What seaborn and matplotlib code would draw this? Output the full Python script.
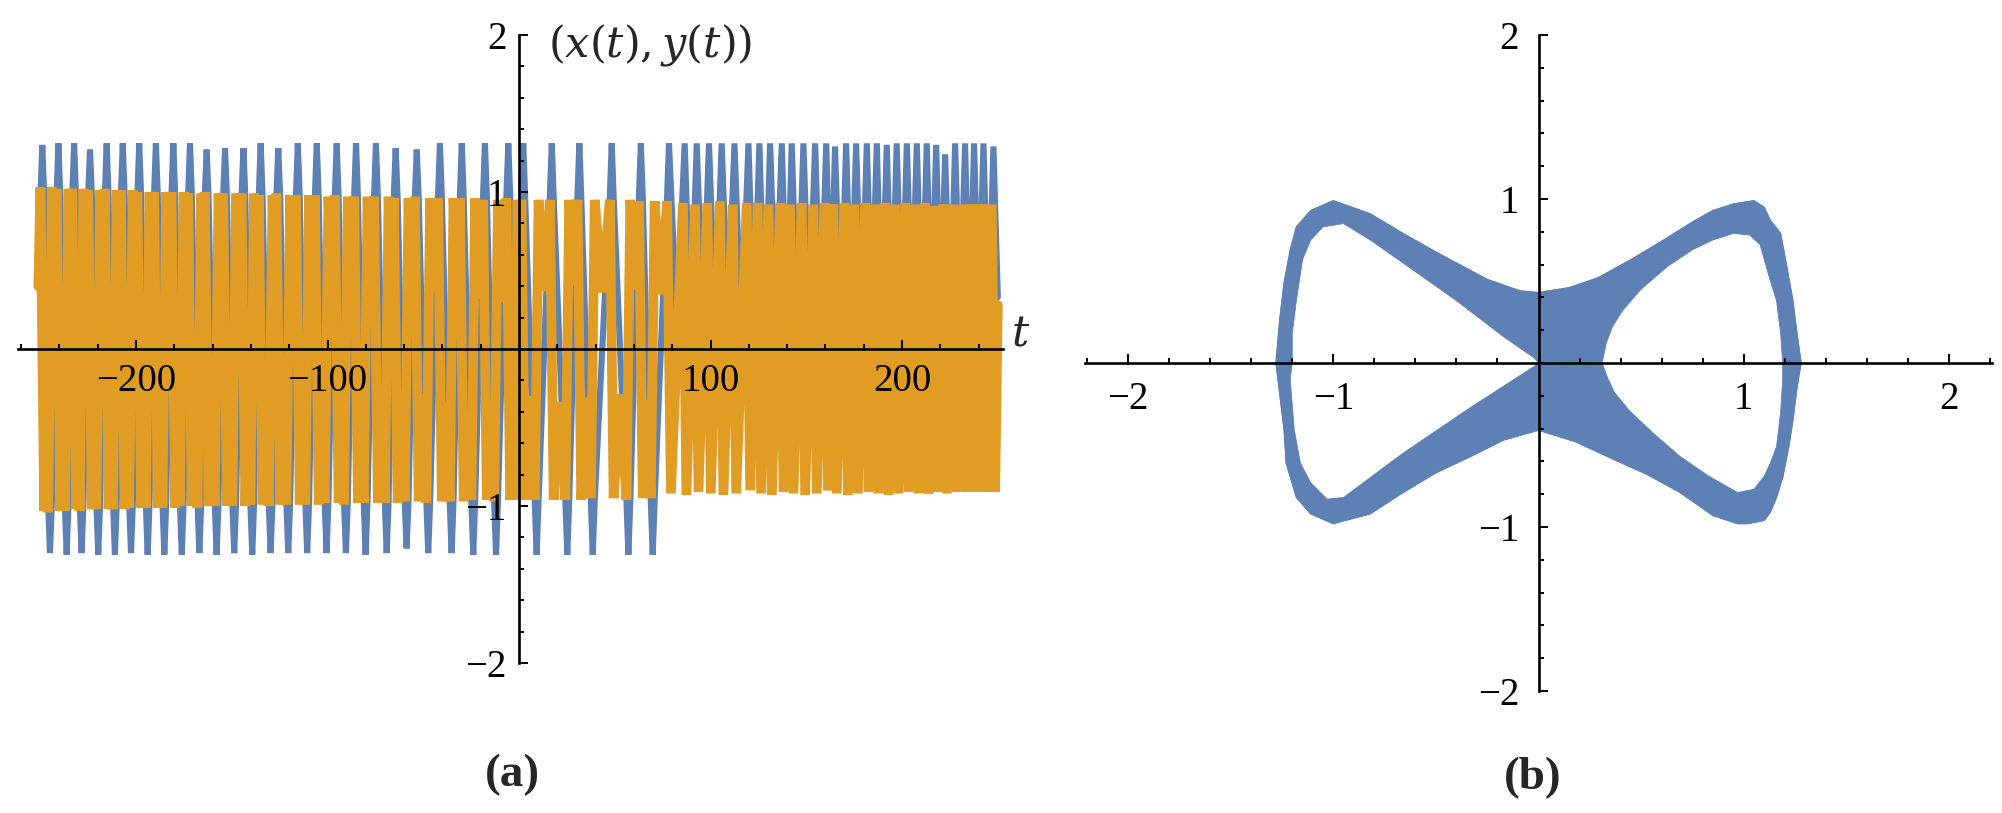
import numpy as np
import matplotlib
matplotlib.use("Agg")
import matplotlib.pyplot as plt
from matplotlib.path import Path
from matplotlib.patches import PathPatch
from matplotlib.ticker import FixedLocator, MultipleLocator
import seaborn as sns

# ---------------- panel (a): points ----------------
# x(t): blue series -- spike tips and the shoulders where each spike leaves the orange band
x_turning = [
    (-251.0, 0.42),
    (-249.9, 0.97), (-248.9, 1.30), (-247.9, 0.97),
    (-245.9, -0.97), (-244.9, -1.30), (-243.9, -0.97),
    (-241.5, 0.97), (-240.5, 1.31), (-239.5, 0.97),
    (-237.2, -0.97), (-236.2, -1.31), (-235.2, -0.97),
    (-233.3, 0.97), (-232.3, 1.31), (-231.3, 0.97),
    (-229.4, -0.97), (-228.4, -1.30), (-227.4, -0.97),
    (-225.0, 0.97), (-224.0, 1.27), (-223.0, 0.97),
    (-220.7, -0.97), (-219.7, -1.31), (-218.7, -0.97),
    (-216.3, 0.97), (-215.3, 1.31), (-214.3, 0.97),
    (-212.0, -0.97), (-211.0, -1.31), (-210.0, -0.97),
    (-207.9, 0.97), (-206.9, 1.31), (-205.9, 0.97),
    (-203.6, -0.97), (-202.6, -1.30), (-201.6, -0.97),
    (-199.3, 0.97), (-198.3, 1.31), (-197.3, 0.97),
    (-194.9, -0.97), (-193.9, -1.31), (-192.9, -0.97),
    (-190.6, 0.97), (-189.6, 1.31), (-188.6, 0.97),
    (-186.2, -0.97), (-185.2, -1.31), (-184.2, -0.97),
    (-181.5, 0.97), (-180.5, 1.31), (-179.5, 0.97),
    (-177.1, -0.97), (-176.1, -1.31), (-175.1, -0.97),
    (-172.8, 0.97), (-171.8, 1.31), (-170.8, 0.97),
    (-167.9, -0.97), (-166.9, -1.30), (-165.9, -0.97),
    (-164.1, 0.97), (-163.1, 1.27), (-162.1, 0.97),
    (-158.9, -0.97), (-157.9, -1.31), (-156.9, -0.97),
    (-154.5, 0.97), (-153.5, 1.28), (-152.5, 0.97),
    (-149.7, -0.97), (-148.7, -1.30), (-147.7, -0.97),
    (-144.9, 0.97), (-143.9, 1.28), (-142.9, 0.97),
    (-140.3, -0.97), (-139.3, -1.31), (-138.3, -0.97),
    (-135.9, 0.97), (-134.9, 1.31), (-133.9, 0.97),
    (-130.7, -0.97), (-129.7, -1.30), (-128.7, -0.97),
    (-126.7, 0.97), (-125.7, 1.28), (-124.7, 0.97),
    (-121.5, -0.97), (-120.5, -1.30), (-119.5, -0.97),
    (-116.5, 0.97), (-115.5, 1.31), (-114.5, 0.97),
    (-111.6, -0.97), (-110.6, -1.30), (-109.6, -0.97),
    (-106.6, 0.97), (-105.6, 1.31), (-104.6, 0.97),
    (-101.5, -0.97), (-100.5, -1.30), (-99.5, -0.97),
    (-96.2, 0.97), (-95.2, 1.31), (-94.2, 0.97),
    (-91.4, -0.97), (-90.4, -1.30), (-89.4, -0.97),
    (-86.1, 0.97), (-85.1, 1.31), (-84.1, 0.97),
    (-81.1, -0.97), (-80.1, -1.31), (-79.1, -0.97),
    (-75.7, 0.97), (-74.7, 1.31), (-73.7, 0.97),
    (-70.1, -0.97), (-69.1, -1.30), (-68.1, -0.97),
    (-65.4, 0.97), (-64.4, 1.28), (-63.4, 0.97),
    (-59.7, -0.97), (-58.7, -1.27), (-57.7, -0.97),
    (-54.4, 0.97), (-53.4, 1.27), (-52.4, 0.97),
    (-48.4, -0.97), (-47.4, -1.30), (-46.4, -0.97),
    (-42.3, 0.97), (-41.3, 1.31), (-40.3, 0.97),
    (-36.2, -0.97), (-35.2, -1.30), (-34.2, -0.97),
    (-30.9, 0.97), (-29.9, 1.31), (-28.9, 0.97),
    (-24.9, -0.97), (-23.9, -1.31), (-22.9, -0.97),
    (-18.8, 0.97), (-17.8, 1.31), (-16.8, 0.97),
    (-13.0, -0.97), (-12.0, -1.31), (-11.0, -0.97),
    (-6.6, 0.97), (-5.6, 1.31), (-4.6, 0.97),
    (-1.7, -0.10),
    (1.2, 0.97), (2.2, 1.31), (3.2, 0.97),
    (8.2, -0.97), (9.2, -1.31), (10.2, -0.97),
    (16.1, 0.97), (17.1, 1.31), (18.1, 0.97),
    (24.2, -0.97), (25.2, -1.31), (26.2, -0.97),
    (30.5, 0.97), (31.5, 1.31), (32.5, 0.97),
    (37.5, -0.97), (38.5, -1.31), (39.5, -0.97),
    (47.4, 0.97), (48.4, 1.31), (49.4, 0.97),
    (56.1, -0.97), (57.1, -1.31), (58.1, -0.97),
    (62.6, 0.97), (63.6, 1.31), (64.6, 0.97),
    (68.8, -0.97), (69.8, -1.31), (70.8, -0.97),
    (77.3, 0.97), (78.3, 1.31),
    (82.4, 0.18), (86.5, 1.31), (89.6, 0.12), (92.8, 1.31), (96.0, 0.20),
    (99.2, 1.31), (102.5, 0.15), (105.8, 1.31), (109.1, 0.22), (112.5, 1.31),
    (116.1, 0.10), (119.8, 1.31), (122.6, 0.17), (125.5, 1.31), (128.3, 0.14),
    (131.1, 1.31), (134.1, 0.21), (137.2, 1.31), (139.8, 0.16), (142.4, 1.31),
    (145.4, 0.12), (148.5, 1.31), (151.5, 0.19), (154.6, 1.31), (157.5, 0.15),
    (160.4, 1.31), (162.7, 0.23), (165.0, 1.29), (167.9, 0.13), (170.8, 1.31),
    (173.4, 0.18), (176.0, 1.31), (178.8, 0.16), (181.6, 1.31), (184.2, 0.20),
    (186.8, 1.31), (189.4, 0.14), (192.0, 1.30), (194.6, 0.18), (197.2, 1.31),
    (199.8, 0.15), (202.5, 1.31), (205.1, 0.21), (207.7, 1.31), (210.3, 0.13),
    (212.9, 1.31), (215.3, 0.17), (217.8, 1.30), (220.1, 0.19), (222.5, 1.24),
    (225.1, 0.14), (227.7, 1.31), (230.3, 0.18), (232.9, 1.31), (235.2, 0.16),
    (237.6, 1.31), (240.0, 0.20), (242.5, 1.31), (245.1, 0.15), (247.7, 1.29),
    (250.0, 0.33),
]

# y(t): orange series -- corner maxima/minima and the shallow dips between them
y_turning = [
    (-251.0, 0.40),
    (-249.9, 1.03), (-247.9, -1.03), (-246.9, -0.36),
    (-245.9, -1.04), (-243.9, 1.03), (-242.7, 0.32),
    (-241.5, 1.02), (-239.5, -1.03), (-238.4, -0.40),
    (-237.2, -1.03), (-235.2, 1.02), (-234.3, 0.35),
    (-233.3, 1.02), (-231.3, -1.02), (-230.4, -0.30),
    (-229.4, -1.03), (-227.4, 1.02), (-226.2, 0.41),
    (-225.0, 1.01), (-223.0, -1.02), (-221.9, -0.34),
    (-220.7, -1.02), (-218.7, 1.01), (-217.5, 0.30),
    (-216.3, 1.02), (-214.3, -1.02), (-213.2, -0.38),
    (-212.0, -1.02), (-210.0, 1.01), (-209.0, 0.36),
    (-207.9, 1.01), (-205.9, -1.02), (-204.8, -0.31),
    (-203.6, -1.01), (-201.6, 1.01), (-200.5, 0.40),
    (-199.3, 1.00), (-197.3, -1.01), (-196.1, -0.35),
    (-194.9, -1.01), (-192.9, 1.00), (-191.8, 0.29),
    (-190.6, 1.00), (-188.6, -1.01), (-187.4, -0.39),
    (-186.2, -1.01), (-184.2, 1.00), (-182.9, 0.33),
    (-181.5, 1.00), (-179.5, -1.01), (-178.3, -0.30),
    (-177.1, -1.00), (-175.1, 1.00), (-174.0, 0.42),
    (-172.8, 0.99), (-170.8, -1.00), (-169.4, -0.36),
    (-167.9, -1.01), (-165.9, 0.99), (-165.0, 0.31),
    (-164.1, 1.00), (-162.1, -1.00), (-160.5, -0.38),
    (-158.9, -1.00), (-156.9, 0.99), (-155.7, 0.34),
    (-154.5, 0.99), (-152.5, -1.00), (-151.1, -0.29),
    (-149.7, -1.00), (-147.7, 0.99), (-146.3, 0.40),
    (-144.9, 0.99), (-142.9, -1.00), (-141.6, -0.35),
    (-140.3, -0.99), (-138.3, 0.99), (-137.1, 0.32),
    (-135.9, 0.98), (-133.9, -0.99), (-132.3, -0.41),
    (-130.7, -1.00), (-128.7, 0.98), (-127.7, 0.30),
    (-126.7, 0.99), (-124.7, -0.99), (-123.1, -0.37),
    (-121.5, -0.99), (-119.5, 0.98), (-118.0, 0.35),
    (-116.5, 0.98), (-114.5, -0.99), (-113.1, -0.31),
    (-111.6, -0.99), (-109.6, 0.98), (-108.1, 0.39),
    (-106.6, 0.98), (-104.6, -0.99), (-103.1, -0.33),
    (-101.5, -0.98), (-99.5, 0.97), (-97.9, 0.29),
    (-96.2, 0.98), (-94.2, -0.98), (-92.8, -0.40),
    (-91.4, -0.99), (-89.4, 0.97), (-87.8, 0.34),
    (-86.1, 0.97), (-84.1, -0.98), (-82.6, -0.30),
    (-81.1, -0.98), (-79.1, 0.97), (-77.4, 0.38),
    (-75.7, 0.97), (-73.7, -0.98), (-71.9, -0.35),
    (-70.1, -0.98), (-68.1, 0.97), (-66.8, 0.31),
    (-65.4, 0.96), (-63.4, -0.98), (-61.6, -0.41),
    (-59.7, -0.97), (-57.7, 0.96), (-56.1, 0.33),
    (-54.4, 0.97), (-52.4, -0.97), (-50.4, -0.29),
    (-48.4, -0.98), (-46.4, 0.96), (-44.4, 0.37),
    (-42.3, 0.96), (-40.3, -0.97), (-38.3, -0.34),
    (-36.2, -0.97), (-34.2, 0.96), (-32.6, 0.30),
    (-30.9, 0.96), (-28.9, -0.97), (-26.9, -0.39),
    (-24.9, -0.96), (-22.9, 0.96), (-20.9, 0.32),
    (-18.8, 0.95), (-16.8, -0.96), (-14.9, -0.36),
    (-13.0, -0.97), (-11.0, 0.95), (-8.8, 0.30),
    (-6.6, 0.96), (-4.6, -0.96), (-3.7, -0.40),
    (-2.6, -0.96), (-0.8, 0.95), (0.3, 0.33),
    (1.2, 0.95), (3.2, -0.96), (5.7, -0.30),
    (8.2, -0.96), (10.2, 0.95), (13.2, 0.37),
    (16.1, 0.95), (18.1, -0.96), (21.2, -0.34),
    (24.2, -0.96), (26.2, 0.95), (28.4, 0.41),
    (30.5, 0.95), (32.5, -0.96), (35.0, -0.31),
    (37.5, -0.95), (39.5, 0.95), (43.5, 0.36),
    (47.4, 0.95), (49.4, -0.95), (52.8, -0.29),
    (56.1, -0.96), (58.1, 0.95), (60.4, 0.38),
    (62.6, 0.94), (64.6, -0.95), (66.7, -0.33),
    (68.8, -0.95), (70.8, 0.94), (74.1, 0.35),
    (77.3, 0.94), (79.3, -0.92),
    (85.6, 0.93), (87.4, -0.93), (91.9, 0.92), (93.7, -0.91), (98.3, 0.93),
    (100.1, -0.92), (104.9, 0.94), (106.7, -0.93), (111.6, 0.92), (113.4, -0.92),
    (118.9, 0.93), (120.7, -0.90), (124.6, 0.93), (126.4, -0.92), (130.2, 0.92),
    (132.0, -0.93), (136.3, 0.93), (138.1, -0.91), (141.5, 0.92), (143.3, -0.92),
    (147.6, 0.93), (149.4, -0.93), (153.7, 0.92), (155.5, -0.92), (159.5, 0.93),
    (161.3, -0.90), (164.1, 0.92), (165.9, -0.92), (169.9, 0.93), (171.7, -0.93),
    (175.1, 0.92), (176.9, -0.92), (180.7, 0.93), (182.5, -0.91), (185.9, 0.92),
    (187.7, -0.92), (191.1, 0.93), (192.9, -0.93), (196.3, 0.92), (198.1, -0.92),
    (201.6, 0.93), (203.4, -0.91), (206.8, 0.92), (208.6, -0.92), (212.0, 0.93),
    (213.8, -0.92), (216.9, 0.91), (218.7, -0.91), (221.6, 0.92), (223.4, -0.92),
    (226.8, 0.92), (228.6, -0.91), (232.0, 0.92), (233.8, -0.91), (236.7, 0.92),
    (238.5, -0.91), (241.6, 0.92), (243.4, -0.91), (246.8, 0.92), (248.6, -0.91),
    (250.0, 0.28),
]

# ---------------- panel (b): boundaries of the (x, y) band ----------------
band_outer = [
    (0.00, 0.43), (0.15, 0.46), (0.29, 0.52), (0.45, 0.63), (0.61, 0.75), (0.75, 0.86),
    (0.85, 0.93), (0.95, 0.97), (1.05, 0.99), (1.10, 0.95), (1.13, 0.87), (1.18, 0.79),
    (1.21, 0.59), (1.24, 0.38), (1.26, 0.18), (1.28, 0.00), (1.26, -0.15), (1.24, -0.35),
    (1.22, -0.51), (1.19, -0.70), (1.16, -0.82), (1.13, -0.91), (1.10, -0.96), (1.02, -0.98),
    (0.97, -0.98), (0.85, -0.93), (0.69, -0.79), (0.53, -0.68), (0.37, -0.59), (0.18, -0.48),
    (0.00, -0.41), (-0.17, -0.47), (-0.33, -0.57), (-0.50, -0.67), (-0.66, -0.79), (-0.82, -0.92),
    (-1.00, -0.98), (-1.11, -0.92), (-1.18, -0.82), (-1.23, -0.61), (-1.24, -0.41), (-1.27, -0.10),
    (-1.28, 0.00), (-1.26, 0.28), (-1.24, 0.49), (-1.21, 0.69), (-1.18, 0.83), (-1.11, 0.93),
    (-1.00, 0.99), (-0.82, 0.91), (-0.66, 0.79), (-0.49, 0.67), (-0.25, 0.51), (-0.09, 0.44),
]
band_hole_right = [
    (0.31, 0.00), (0.34, -0.10), (0.37, -0.18), (0.45, -0.30), (0.57, -0.44), (0.69, -0.57),
    (0.83, -0.69), (0.97, -0.79), (1.05, -0.77), (1.10, -0.69), (1.13, -0.61), (1.16, -0.51),
    (1.18, -0.30), (1.19, -0.10), (1.19, 0.00), (1.18, 0.18), (1.16, 0.38), (1.13, 0.50),
    (1.10, 0.63), (1.08, 0.72), (1.03, 0.78), (0.95, 0.79), (0.85, 0.75), (0.75, 0.69),
    (0.63, 0.59), (0.50, 0.45), (0.41, 0.32), (0.36, 0.22), (0.33, 0.12),
]
band_hole_left = [
    (0.00, 0.00), (-0.02, 0.03), (-0.17, 0.16), (-0.40, 0.38), (-0.66, 0.61), (-0.82, 0.75),
    (-0.95, 0.85), (-1.05, 0.83), (-1.11, 0.75), (-1.15, 0.63), (-1.18, 0.38), (-1.20, 0.18),
    (-1.20, 0.00), (-1.21, -0.10), (-1.19, -0.41), (-1.16, -0.61), (-1.11, -0.73), (-1.03, -0.83),
    (-0.95, -0.82), (-0.66, -0.55), (-0.33, -0.27), (-0.02, -0.02),
]

# ticks and labels
a_xmajor = [-200, -100, 100, 200]
ab_ymajor = [-2, -1, 1, 2]
b_xmajor = [-2, -1, 1, 2]

BLUE = "#5E81B5"
ORANGE = "#E19C24"

sns.set_style("white")
plt.rcParams["font.family"] = ["Liberation Serif", "DejaVu Serif"]
plt.rcParams["mathtext.fontset"] = "dejavuserif"
plt.rcParams["axes.unicode_minus"] = True

W, H = 2002, 813
fig = plt.figure(figsize=(W / 100, H / 100), dpi=100)
ax1 = fig.add_axes([18 / W, 1 - 663 / H, 985 / W, 628 / H])
ax2 = fig.add_axes([1085 / W, 1 - 691 / H, 907 / W, 656 / H])


def style_axes(ax, xmaj, xminor, ymaj, yminor, xpad, ypad):
    ax.set_facecolor("none")
    ax.set_axisbelow(False)
    for s in ["top", "right"]:
        ax.spines[s].set_visible(False)
    for s in ["left", "bottom"]:
        ax.spines[s].set_position(("data", 0))
        ax.spines[s].set_linewidth(1.9)
        ax.spines[s].set_color("black")
        ax.spines[s].set_zorder(5)
    ax.xaxis.set_zorder(6)
    ax.yaxis.set_zorder(6)
    ax.xaxis.set_ticks_position("bottom")
    ax.yaxis.set_ticks_position("left")
    ax.xaxis.set_major_locator(FixedLocator(xmaj))
    ax.xaxis.set_minor_locator(MultipleLocator(xminor))
    ax.yaxis.set_major_locator(FixedLocator(ymaj))
    ax.yaxis.set_minor_locator(MultipleLocator(yminor))
    ax.tick_params(which="major", direction="in", length=6.5, width=1.4,
                   labelsize=28, colors="black")
    ax.tick_params(which="minor", direction="in", length=3.8, width=1.4, colors="black")
    ax.tick_params(axis="x", which="major", pad=xpad)
    ax.tick_params(axis="y", which="major", pad=ypad)
    ax.set_xlabel("")
    ax.set_ylabel("")
    ax.grid(False)


# ---- panel (a)
bt, bv = zip(*x_turning)
ot, ov = zip(*y_turning)
sns.lineplot(x=list(bt), y=list(bv), ax=ax1, color=BLUE, linewidth=4.4,
             estimator=None, sort=False, solid_joinstyle="bevel", zorder=2.0)
sns.lineplot(x=list(ot), y=list(ov), ax=ax1, color=ORANGE, linewidth=7.0,
             estimator=None, sort=False, solid_joinstyle="bevel", zorder=2.1)
ax1.set_xlim(-261.6, 252.7)
ax1.set_ylim(-2, 2)
style_axes(ax1, a_xmajor, 20, ab_ymajor, 0.2, xpad=10, ypad=9)
ax1.text(15, 1.935, r"$(x(t),y(t))$", fontsize=31, ha="left", va="center")
ax1.text(262, 0.09, r"$t$", fontsize=31, ha="center", va="center", clip_on=False)

# ---- panel (b)
def ring(points):
    pts = list(points) + [points[0]]
    codes = [Path.MOVETO] + [Path.LINETO] * (len(points) - 1) + [Path.CLOSEPOLY]
    return pts, codes

verts, codes = [], []
for poly in (band_outer, band_hole_right, band_hole_left):
    p, c = ring(poly)
    verts += p
    codes += c
band = PathPatch(Path(verts, codes), facecolor=BLUE, edgecolor=BLUE, linewidth=0.6, zorder=2)
ax2.add_patch(band)
ox, oy = zip(*(band_outer + [band_outer[0]]))
sns.lineplot(x=list(ox), y=list(oy), ax=ax2, color=BLUE, linewidth=0.8,
             estimator=None, sort=False, zorder=2)
ax2.set_xlim(-2.21, 2.21)
ax2.set_ylim(-2, 2)
style_axes(ax2, b_xmajor, 0.2, ab_ymajor, 0.2, xpad=13, ypad=14)

fig.text(512 / W, 1 - 775 / H, "(a)", fontsize=34, fontweight="bold", ha="center", va="center")
fig.text(1533 / W, 1 - 778 / H, "(b)", fontsize=34, fontweight="bold", ha="center", va="center")

fig.savefig("out.png", dpi=100, facecolor="white")
